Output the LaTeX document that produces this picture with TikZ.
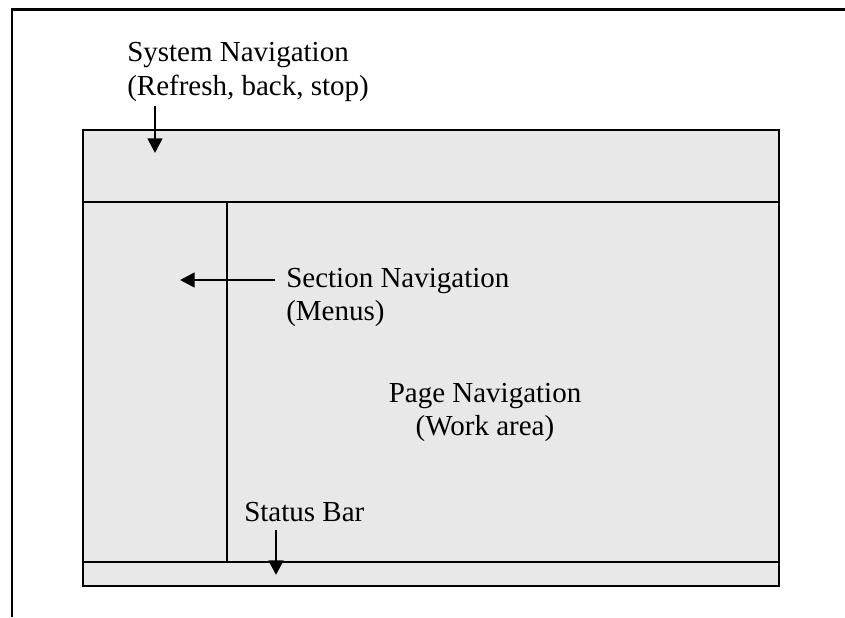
\documentclass[tikz,border=0pt]{standalone}
\usepackage{fontspec}
\setmainfont{Liberation Serif}
\usetikzlibrary{arrows.meta}
\definecolor{panel}{HTML}{E8E8E8}
\tikzset{
  frameline/.style={line width=1.9pt, black},
  panelbox/.style={line width=1.7pt, draw=black, fill=panel},
  divider/.style={line width=1.5pt, black},
  label/.style={inner sep=0pt, font=\fontsize{21.75pt}{24.75pt}\selectfont},
  pointer/.style={line width=2pt, -{Triangle[length=11pt,width=11pt]}},
}
\begin{document}
\begin{tikzpicture}[x=0.75pt, y=-0.75pt]
\useasboundingbox (0,0) rectangle (845,617);
% page frame
\coordinate (frameTL) at (12,9.5);
\coordinate (frameTR) at (845,9.5);
\coordinate (frameBL) at (12,617);
\draw[frameline] (frameBL) -- (frameTL) -- (frameTR);
% browser window
\coordinate (winTL) at (83,130);
\coordinate (winBR) at (779,586);
\draw[panelbox] (winTL) rectangle (winBR);
% panel dividers
\coordinate (topL) at (83,202);
\coordinate (topR) at (779,202);
\coordinate (botL) at (83,562);
\coordinate (botR) at (779,562);
\coordinate (menuT) at (227,202);
\coordinate (menuB) at (227,562);
\draw[divider] (topL) -- (topR);
\draw[divider] (botL) -- (botR);
\draw[divider] (menuT) -- (menuB);
% labels (base anchor sits on the last line)
\node[label, anchor=base west, align=left] (sysnav) at (127,95)
  {System Navigation\\(Refresh, back, stop)};
\node[label, anchor=base west, align=left] (secnav) at (286,320)
  {Section Navigation\\(Menus)};
\node[label, anchor=base, align=center] (pagenav) at (485,435)
  {Page Navigation\\(Work area)};
\node[label, anchor=base west] (status) at (244,521) {Status Bar};
% pointers
\coordinate (sysFrom) at (155,106);
\coordinate (sysTo) at (155,153);
\coordinate (secFrom) at (275,280);
\coordinate (secTo) at (180,280);
\coordinate (statFrom) at (276,530);
\coordinate (statTo) at (276,575);
\draw[pointer] (sysFrom) -- (sysTo);
\draw[pointer] (secFrom) -- (secTo);
\draw[pointer] (statFrom) -- (statTo);
\end{tikzpicture}
\end{document}
